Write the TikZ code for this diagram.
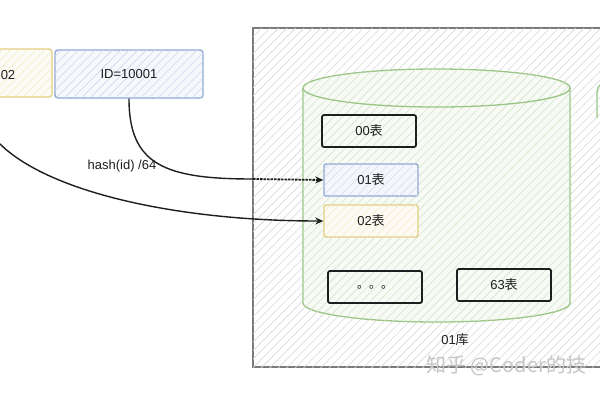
\documentclass[tikz,border=0pt]{standalone}
\usepackage{fontspec}
\setmainfont{Liberation Sans}
\newfontfamily\cjk{Noto Sans CJK SC}
\usetikzlibrary{arrows.meta,patterns.meta,calc}
\definecolor{shdgray}{HTML}{7A7A7A}
\definecolor{shdgreen}{HTML}{9BC585}
\definecolor{shdblue}{HTML}{8FA8D4}
\definecolor{shdyellow}{HTML}{E3CE7E}
\definecolor{shdink}{HTML}{1E1E1E}
\tikzset{
  hatch/.style={pattern={Lines[angle=45,distance=6pt,line width=0.6pt]}, pattern color=#1},
  lbl/.style={font=\fontsize{13}{15}\selectfont, text=shdink},
  idbox/.style={draw=#1, line width=1.4pt, rounded corners=3pt, fill=#1!8, postaction={hatch=#1!45}, minimum width=148pt, minimum height=48pt, lbl},
  tbl/.style={draw=shdink, line width=1.8pt, rounded corners=2pt, minimum width=94pt, minimum height=32pt, lbl},
  tblc/.style={tbl, draw=#1, line width=1.4pt, fill=#1!10, postaction={hatch=#1!40}},
  link/.style={line width=1.4pt, color=shdink},
  tip/.style={-{Stealth[length=8pt,width=7pt,open]}},
}
\begin{document}
\begin{tikzpicture}[x=1pt, y=-1pt]
    \useasboundingbox (0,0) rectangle (600,400);
    \clip (0,0) rectangle (600,400);
    % sharded database frame
    \draw[shdgray, line width=1.5pt, fill=white, postaction={hatch=gray!30}] (253,28) rectangle (620,367);
    % 01 database cylinder
    \draw[shdgreen, line width=1.3pt, fill=shdgreen!8, postaction={hatch=shdgreen!45}]
      (303,88) -- (303,303) arc[start angle=180, end angle=0, x radius=133.5, y radius=19]
      -- (570,88) arc[start angle=0, end angle=-180, x radius=133.5, y radius=19] -- cycle;
    \draw[shdgreen, line width=1.3pt] (303,88) arc[start angle=180, end angle=0, x radius=133.5, y radius=19];
    \draw[shdgreen, line width=1.3pt] (602,84) to[out=200, in=90] (597,94) -- (597,118);
    % ids
    \node[idbox=shdyellow] (id2) at (-22,73) {};
    \node[lbl] (id2txt) at (8,75) {02};
    \node[idbox=shdblue] (id1) at (129,74) {ID=10001};
    % tables
    \node[tbl] (t00) at (369,131) {00{\cjk 表}};
    \node[tblc=shdblue] (t01) at (371,180) {01{\cjk 表}};
    \node[tblc=shdyellow] (t02) at (371,221) {02{\cjk 表}};
    \node[tbl, font=\cjk\fontsize{12}{14}\selectfont] (tdots) at (375,287) {。。。};
    \node[tbl] (t63) at (504,285) {63{\cjk 表}};
    \node[lbl] (db01) at (455,340) {01{\cjk 库}};
    \node[lbl] (hash) at (122,166) {hash(id) /64};
    \node[anchor=west, text=gray!45, font=\cjk\fontsize{20}{22}\selectfont] (mark) at (423,366) {知乎 @Coder的技};
    % routing
    \coordinate (gate) at (253,179);
    \draw[link] (id1.south) .. controls (129,165) and (165,179) .. (gate);
    \draw[link, tip, line width=1.8pt, dash pattern=on 2.5pt off 1pt] (gate) -- (t01.west);
    \draw[link, tip] (id2.south) .. controls (-22,175) and (140,221) .. (t02.west);
\end{tikzpicture}
\end{document}
